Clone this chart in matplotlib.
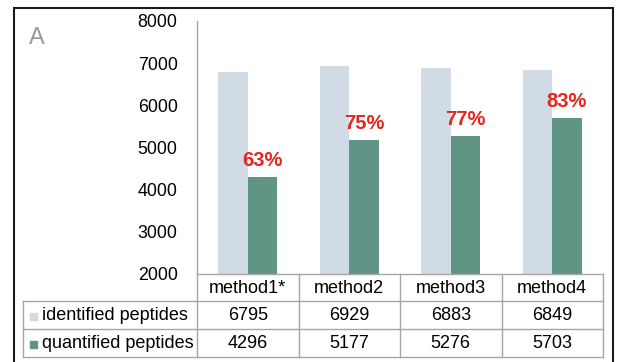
import matplotlib.pyplot as plt
from matplotlib.transforms import blended_transform_factory
from matplotlib.patches import Rectangle
import numpy as np

plt.rcParams['font.family'] = ['Liberation Sans', 'DejaVu Sans']

methods = ['method1*', 'method2', 'method3', 'method4']
identified = [6795, 6929, 6883, 6849]
quantified = [4296, 5177, 5276, 5703]
series_names = ['identified peptides', 'quantified peptides']
series_colors = ['#D0DBE6', '#609484']

W, H = 620, 362
fig = plt.figure(figsize=(W / 100, H / 100), dpi=100)

def fy(py):
    # pixel row (from top) -> figure fraction
    return 1 - py / H

def fx(px):
    return px / W

# plot area
ax_left, ax_right, ax_top, ax_bottom = 197, 603, 21, 274
ax = fig.add_axes([fx(ax_left), fy(ax_bottom), fx(ax_right - ax_left), (ax_bottom - ax_top) / H])

x = np.arange(len(methods))
bw = 0.29
ax.bar(x - bw / 2, identified, bw, color=series_colors[0])
ax.bar(x + bw / 2, quantified, bw, color=series_colors[1])

ax.set_xlim(-0.5, len(methods) - 0.5)
ax.set_ylim(2000, 8000)
ax.set_yticks(range(2000, 8001, 1000))
ax.tick_params(axis='y', length=0, pad=14, labelsize=12.8)
ax.set_xticks([])
for s in ['top', 'right', 'bottom']:
    ax.spines[s].set_visible(False)
ax.spines['left'].set_color('#A6A6A6')
ax.spines['left'].set_linewidth(1.0)

# percentage of identified peptides that were quantified
for xi, idn, q in zip(x, identified, quantified):
    ax.annotate(f'{q / idn:.0%}', (xi + bw / 2, q), xytext=(0, 5), textcoords='offset points',
                ha='center', va='bottom', color='#E5261F', fontsize=14.5, fontweight='bold')

# data table under the axis
tr = blended_transform_factory(ax.transData, fig.transFigure)
line_kw = dict(color='#A6A6A6', lw=1.0, clip_on=False)
rows = [274, 301, 329, 357]
tab_left = fx(23)
fig.add_artist(plt.Line2D([fx(ax_left), fx(ax_right)], [fy(rows[0])] * 2, **line_kw))
for r in rows[1:]:
    fig.add_artist(plt.Line2D([tab_left, fx(ax_right)], [fy(r)] * 2, **line_kw))
for b in np.arange(-0.5, len(methods), 1.0):
    ax.add_line(plt.Line2D([b, b], [fy(rows[0]), fy(rows[-1])], transform=tr, **line_kw))
fig.add_artist(plt.Line2D([tab_left] * 2, [fy(rows[1]), fy(rows[-1])], **line_kw))

for xi, m in zip(x, methods):
    ax.text(xi, fy((rows[0] + rows[1]) / 2 + 1), m, transform=tr, ha='center', va='center', fontsize=13)
for i, vals in enumerate([identified, quantified]):
    yc = fy((rows[i + 1] + rows[i + 2]) / 2 + 1)
    for xi, v in zip(x, vals):
        ax.text(xi, yc, str(v), transform=tr, ha='center', va='center', fontsize=13)
    fig.add_artist(Rectangle((fx(30), yc - 3.5 / H), 7 / W, 7 / H, color=series_colors[i]))
    fig.text(fx(41.5), yc, series_names[i], ha='left', va='center', fontsize=13)

# panel letter and frame
fig.text(fx(29), fy(44), 'A', ha='left', va='baseline', fontsize=17, color='#999999')
fig.add_artist(Rectangle((fx(13.5), fy(366)), fx(613 - 13.5), (366 - 7.5) / H,
                         fill=False, ec='#1A1A1A', lw=1.5, clip_on=False))

fig.savefig('out.png', dpi=100)
